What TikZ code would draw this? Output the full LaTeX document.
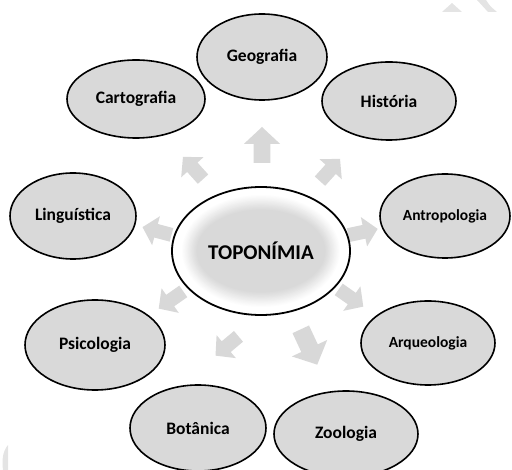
\documentclass[tikz,border=0pt]{standalone}
\usepackage{fontspec}
\setmainfont{Carlito}
\usetikzlibrary{shapes.geometric}

\definecolor{fieldgrey}{HTML}{D9D9D9}
\definecolor{arrowgrey}{HTML}{D8D8D8}
\definecolor{markgrey}{HTML}{E4E4E4}

\tikzset{
  field/.style={ellipse, draw=black, line width=1.6pt, fill=fieldgrey,
    font=\fontsize{17.5}{20}\selectfont\bfseries, inner sep=0pt},
  smallfield/.style={field, font=\fontsize{15.5}{18}\selectfont\bfseries},
  core/.style={ellipse, draw=black, line width=1.8pt,
    font=\fontsize{21}{24}\selectfont\bfseries, inner sep=0pt},
  blockarrow/.pic={
    \fill[arrowgrey] (-15,-7) -- (1,-7) -- (1,-15) -- (15,0) -- (1,15) -- (1,7) -- (-15,7) -- cycle;
  }
}

\begin{document}
\begin{tikzpicture}[x=1pt,y=-1pt]
\useasboundingbox (0,0) rectangle (512,470);

% watermark remains
\fill[markgrey] (442,12) -- (452,3) -- (462,12) -- cycle;
\fill[markgrey] (477,0) -- (486,0) .. controls (490,6) .. (497,12) -- (488,12) .. controls (482,6) .. (477,0);
\fill[markgrey] (8,445) .. controls (2,452) and (2,462) .. (3,470) -- (8,470) -- cycle;

% arrows round the centre
\pic[rotate=90,scale=1.2] at (262,145) {blockarrow};
\pic[rotate=132] at (193,168) {blockarrow};
\pic[rotate=48] at (330,170) {blockarrow};
\pic[rotate=165] at (157,231) {blockarrow};
\pic[rotate=12] at (363,232) {blockarrow};
\pic[rotate=215] at (171,300) {blockarrow};
\pic[rotate=-35] at (351,298) {blockarrow};
\pic[rotate=-140] at (227,346) {blockarrow};
\pic[rotate=-65,scale=1.3] at (309,347) {blockarrow};

% centre, soft grey core
\fill[white] (261,251) ellipse (89 and 64);
\foreach \k in {0,...,12}
  \fill[fieldgrey!\the\numexpr\k*100/12\relax!white] (261,251) ellipse ({80-1.3*\k} and {57-1.3*\k});
\node[core, minimum width=178pt, minimum height=128pt] (topo) at (261,251) {TOPON\'IMIA};

% fields
\node[field, minimum width=130pt, minimum height=86pt] (geo) at (262,57) {Geografia};
\node[field, minimum width=138pt, minimum height=78pt] (carto) at (136,99) {Cartografia};
\node[field, minimum width=134pt, minimum height=78pt] (hist) at (389,101) {Hist\'oria};
\node[field, minimum width=126pt, minimum height=86pt] (ling) at (73,216) {Lingu\'istica};
\node[smallfield, minimum width=130pt, minimum height=84pt] (antro) at (445,216) {Antropologia};
\node[field, minimum width=140pt, minimum height=90pt] (psico) at (95,345) {Psicologia};
\node[smallfield, minimum width=134pt, minimum height=84pt] (arqueo) at (428,343) {Arqueologia};
\node[field, minimum width=136pt, minimum height=86pt] (bot) at (198,428) {Bot\^anica};
\node[field, minimum width=144pt, minimum height=86pt] (zoo) at (346,434) {Zoologia};
\end{tikzpicture}
\end{document}
